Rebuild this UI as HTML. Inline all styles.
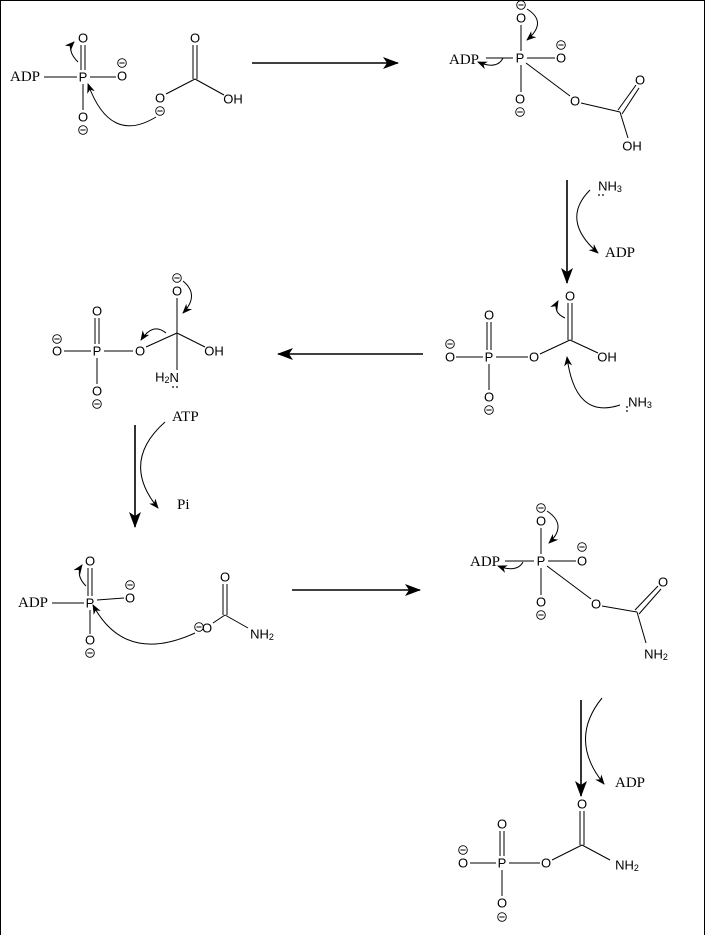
<!DOCTYPE html>
<html><head><meta charset="utf-8"><style>
html,body{margin:0;padding:0;background:#fff}
svg{display:block}
.a{font-family:"Liberation Sans",sans-serif;font-size:13px;text-anchor:middle;dominant-baseline:central}
.s{font-family:"Liberation Serif",serif;font-size:15px;dominant-baseline:central}
line,path{stroke:#000;stroke-width:1;fill:none}
path.f{fill:#000;stroke:none}
.ar{stroke-width:1.6}
</style></head><body>
<svg width="705" height="935" viewBox="0 0 705 935" xmlns="http://www.w3.org/2000/svg">
<defs>
<g id="m"><circle cx="0" cy="0" r="4.3" fill="none" stroke="#000" stroke-width="0.9"/><line x1="-2.6" y1="0" x2="2.6" y2="0" stroke-width="0.9"/></g>
<marker id="h" markerWidth="10" markerHeight="10" refX="9" refY="5" orient="auto" markerUnits="userSpaceOnUse"><path class="f" d="M0,1 L10,5 L0,9 L3,5 Z"/></marker>
<marker id="hb" markerWidth="16" markerHeight="14" refX="15" refY="7" orient="auto" markerUnits="userSpaceOnUse"><path class="f" d="M0,1 L16,7 L0,13 L4,7 Z"/></marker>
</defs>
<rect x="0.5" y="0.5" width="704" height="940" fill="none" stroke="#000"/>

<!-- Molecule 1 -->
<text class="s" x="10" y="77">ADP</text>
<line x1="44" y1="77" x2="77" y2="77"/>
<text class="a" x="83" y="77">P</text>
<line x1="81" y1="45" x2="81" y2="70"/><line x1="85" y1="45" x2="85" y2="70"/>
<text class="a" x="83" y="38">O</text>
<line x1="90" y1="77" x2="116" y2="77"/>
<text class="a" x="122" y="76">O</text><use href="#m" x="122" y="63"/>
<line x1="83" y1="84" x2="83" y2="110"/>
<text class="a" x="83" y="117">O</text><use href="#m" x="83" y="130"/>
<path d="M78,62 Q66,50 74,42" marker-end="url(#h)"/>
<text class="a" x="160" y="98">O</text><use href="#m" x="160" y="111"/>
<line x1="166" y1="94" x2="195" y2="79"/>
<line x1="193" y1="45" x2="193" y2="79"/><line x1="197" y1="45" x2="197" y2="79"/>
<text class="a" x="195" y="38">O</text>
<line x1="195" y1="79" x2="224" y2="95"/>
<text class="a" x="233" y="99">OH</text>
<path d="M156,117 Q110,145 88,84" marker-end="url(#h)"/>

<line class="ar" x1="252" y1="63" x2="398" y2="63" marker-end="url(#hb)"/>

<!-- Molecule 2 -->
<text class="s" x="449" y="60">ADP</text>
<line x1="486" y1="58" x2="513" y2="58"/>
<text class="a" x="520" y="58">P</text>
<line x1="521" y1="25" x2="521" y2="51"/>
<text class="a" x="521" y="18">O</text><use href="#m" x="521" y="5"/>
<line x1="527" y1="58" x2="555" y2="58"/>
<text class="a" x="561" y="58">O</text><use href="#m" x="561" y="45"/>
<line x1="521" y1="65" x2="521" y2="92"/>
<text class="a" x="520" y="99">O</text><use href="#m" x="520" y="112"/>
<line x1="526" y1="63" x2="570" y2="96"/>
<text class="a" x="575" y="101">O</text>
<line x1="581" y1="103" x2="620" y2="112"/>
<line x1="618" y1="110" x2="636" y2="85"/><line x1="622" y1="114" x2="639" y2="88"/>
<text class="a" x="640" y="80">O</text>
<line x1="620" y1="112" x2="628" y2="138"/>
<text class="a" x="632" y="146">OH</text>
<path d="M527,9 Q548,22 527,40" marker-end="url(#h)"/>
<path d="M503,58 Q497,70 478,62" marker-end="url(#h)"/>

<line class="ar" x1="567" y1="180" x2="567" y2="283" marker-end="url(#hb)"/>
<text class="a" x="610" y="186">NH<tspan font-size="9" dy="3">3</tspan></text>
<circle cx="599" cy="195" r="0.9" fill="#000"/><circle cx="603" cy="195" r="0.9" fill="#000"/>
<path d="M590,190 Q560,220 598,253" marker-end="url(#h)"/>
<text class="s" x="605" y="253">ADP</text>

<!-- Molecule 3 -->
<text class="a" x="450" y="357">O</text><use href="#m" x="450" y="344"/>
<line x1="456" y1="357" x2="483" y2="357"/>
<text class="a" x="489" y="357">P</text>
<line x1="487" y1="322" x2="487" y2="350"/><line x1="491" y1="322" x2="491" y2="350"/>
<text class="a" x="489" y="315">O</text>
<line x1="489" y1="364" x2="489" y2="390"/>
<text class="a" x="489" y="397">O</text><use href="#m" x="489" y="410"/>
<line x1="496" y1="357" x2="528" y2="357"/>
<text class="a" x="534" y="357">O</text>
<line x1="540" y1="354" x2="570" y2="340"/>
<line x1="568" y1="303" x2="568" y2="340"/><line x1="572" y1="303" x2="572" y2="340"/>
<text class="a" x="570" y="296">O</text>
<line x1="570" y1="340" x2="598" y2="353"/>
<text class="a" x="607" y="357">OH</text>
<path d="M565,318 Q552,312 558,301" marker-end="url(#h)"/>
<text class="a" x="640" y="402">NH<tspan font-size="9" dy="3">3</tspan></text>
<circle cx="627" cy="407" r="0.9" fill="#000"/><circle cx="627" cy="411" r="0.9" fill="#000"/>
<path d="M620,405 Q575,420 567,357" marker-end="url(#h)"/>

<line class="ar" x1="423" y1="354" x2="278" y2="354" marker-end="url(#hb)"/>

<!-- Molecule 4 -->
<text class="a" x="57" y="351">O</text><use href="#m" x="57" y="339"/>
<line x1="64" y1="351" x2="91" y2="351"/>
<text class="a" x="97" y="351">P</text>
<line x1="95" y1="318" x2="95" y2="344"/><line x1="99" y1="318" x2="99" y2="344"/>
<text class="a" x="97" y="311">O</text>
<line x1="97" y1="358" x2="97" y2="384"/>
<text class="a" x="97" y="391">O</text><use href="#m" x="97" y="404"/>
<line x1="104" y1="351" x2="133" y2="351"/>
<text class="a" x="140" y="351">O</text>
<line x1="146" y1="347" x2="177" y2="333"/>
<line x1="177" y1="298" x2="177" y2="333"/>
<text class="a" x="177" y="291">O</text><use href="#m" x="177" y="278"/>
<line x1="177" y1="333" x2="205" y2="347"/>
<text class="a" x="214" y="351">OH</text>
<line x1="177" y1="333" x2="177" y2="370"/>
<text class="a" x="167" y="377">H<tspan font-size="9" dy="3">2</tspan><tspan dy="-3">N</tspan></text>
<circle cx="173" cy="387" r="0.9" fill="#000"/><circle cx="177" cy="387" r="0.9" fill="#000"/>
<path d="M183,281 Q200,295 183,313" marker-end="url(#h)"/>
<path d="M166,333 Q153,322 141,340" marker-end="url(#h)"/>

<line class="ar" x1="135" y1="425" x2="135" y2="527" marker-end="url(#hb)"/>
<text class="s" x="172" y="417">ATP</text>
<path d="M165,422 Q120,462 158,508" marker-end="url(#h)"/>
<text class="s" x="177" y="505">Pi</text>

<!-- Molecule 5 -->
<text class="s" x="18" y="603">ADP</text>
<line x1="52" y1="603" x2="84" y2="603"/>
<text class="a" x="90" y="603">P</text>
<line x1="88" y1="568" x2="88" y2="596"/><line x1="92" y1="568" x2="92" y2="596"/>
<text class="a" x="90" y="561">O</text>
<line x1="97" y1="600" x2="124" y2="598"/>
<text class="a" x="130" y="598">O</text><use href="#m" x="130" y="585"/>
<line x1="90" y1="610" x2="90" y2="634"/>
<text class="a" x="90" y="640">O</text><use href="#m" x="90" y="653"/>
<path d="M86,586 Q75,575 82,565" marker-end="url(#h)"/>
<use href="#m" x="199" y="627"/><text class="a" x="207" y="628">O</text>
<line x1="213" y1="623" x2="225" y2="615"/>
<line x1="223" y1="584" x2="223" y2="615"/><line x1="227" y1="584" x2="227" y2="615"/>
<text class="a" x="225" y="577">O</text>
<line x1="225" y1="615" x2="248" y2="628"/>
<text class="a" x="262" y="634">NH<tspan font-size="9" dy="3">2</tspan></text>
<path d="M195,633 Q125,665 93,605" marker-end="url(#h)"/>

<line class="ar" x1="292" y1="590" x2="420" y2="590" marker-end="url(#hb)"/>

<!-- Molecule 6 -->
<text class="s" x="470" y="562">ADP</text>
<line x1="505" y1="561" x2="534" y2="561"/>
<text class="a" x="541" y="561">P</text>
<line x1="541" y1="528" x2="541" y2="554"/>
<text class="a" x="541" y="521">O</text><use href="#m" x="541" y="508"/>
<line x1="548" y1="561" x2="576" y2="561"/>
<text class="a" x="582" y="561">O</text><use href="#m" x="582" y="547"/>
<line x1="541" y1="568" x2="541" y2="595"/>
<text class="a" x="541" y="602">O</text><use href="#m" x="541" y="615"/>
<line x1="547" y1="566" x2="591" y2="599"/>
<text class="a" x="596" y="604">O</text>
<line x1="602" y1="606" x2="637" y2="612"/>
<line x1="635" y1="610" x2="658" y2="586"/><line x1="639" y1="614" x2="661" y2="589"/>
<text class="a" x="663" y="582">O</text>
<line x1="637" y1="612" x2="646" y2="643"/>
<text class="a" x="656" y="654">NH<tspan font-size="9" dy="3">2</tspan></text>
<path d="M547,511 Q568,525 549,543" marker-end="url(#h)"/>
<path d="M523,562 Q517,573 498,566" marker-end="url(#h)"/>

<line class="ar" x1="581" y1="700" x2="581" y2="796" marker-end="url(#hb)"/>
<path d="M602,698 Q568,740 604,784" marker-end="url(#h)"/>
<text class="s" x="615" y="783">ADP</text>

<!-- Molecule 7 -->
<text class="a" x="463" y="863">O</text><use href="#m" x="463" y="850"/>
<line x1="470" y1="863" x2="496" y2="863"/>
<text class="a" x="502" y="863">P</text>
<line x1="500" y1="831" x2="500" y2="856"/><line x1="504" y1="831" x2="504" y2="856"/>
<text class="a" x="502" y="824">O</text>
<line x1="502" y1="870" x2="502" y2="896"/>
<text class="a" x="502" y="903">O</text><use href="#m" x="502" y="917"/>
<line x1="509" y1="863" x2="540" y2="863"/>
<text class="a" x="546" y="863">O</text>
<line x1="552" y1="860" x2="582" y2="845"/>
<line x1="580" y1="811" x2="580" y2="845"/><line x1="584" y1="811" x2="584" y2="845"/>
<text class="a" x="582" y="804">O</text>
<line x1="582" y1="845" x2="610" y2="860"/>
<text class="a" x="627" y="865">NH<tspan font-size="9" dy="3">2</tspan></text>
</svg>
</body></html>
